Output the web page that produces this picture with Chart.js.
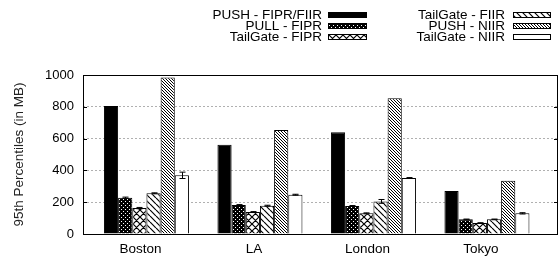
<!DOCTYPE html>
<html>
<head>
<meta charset="utf-8">
<script src="https://cdn.jsdelivr.net/npm/chart.js@4/dist/chart.umd.min.js"></script>
<style>
  body { margin: 0; background: #fff; }
  canvas { display: block; }
</style>
</head>
<body>
<canvas id="chart" width="559" height="257"></canvas>
<script>
'use strict';

// categories and series (95th percentiles in MB)
let cities = ['Boston', 'LA', 'London', 'Tokyo'];
let pushFipr = [805, 562, 640, 270];
let pullFipr = [228, 182, 176, 92];
let tailFipr = [163, 138, 130, 69];
let tailFiir = [256, 178, 205, 92];
let pushNiir = [985, 654, 853, 335];
let tailNiir = [369, 247, 352, 130];

// error bar half widths
let pushFiprErr = [0, 0, 0, 0];
let pullFiprErr = [4, 3, 3, 2];
let tailFiprErr = [4, 3, 3, 2];
let tailFiirErr = [3, 3, 12, 2];
let pushNiirErr = [0, 0, 0, 0];
let tailNiirErr = [20, 3, 3, 4];

let yTicks = [0, 200, 400, 600, 800, 1000];

let canvasElem = document.getElementById('chart');
Chart.defaults.font.family = '"Liberation Sans", Arial, sans-serif';
Chart.defaults.color = '#000';

function makePattern(size, draw) {
  let c = document.createElement('canvas');
  c.width = size;
  c.height = size;
  let g = c.getContext('2d');
  draw(g, size);
  return canvasElem.getContext('2d').createPattern(c, 'repeat');
}

// back-slash hatching
function hatch(size, lw, cross) {
  return makePattern(size, function(g, s) {
    g.fillStyle = '#fff';
    g.fillRect(0, 0, s, s);
    g.strokeStyle = '#000';
    g.lineWidth = lw;
    g.beginPath();
    for (let k = -s; k <= s; k += s) {
      g.moveTo(k, 0);
      g.lineTo(k + s, s);
      if (cross) {
        g.moveTo(k, s);
        g.lineTo(k + s, 0);
      }
    }
    g.stroke();
  });
}

let dotPattern = makePattern(4, function(g, s) {
  g.fillStyle = '#000';
  g.fillRect(0, 0, s, s);
  g.fillStyle = '#fff';
  g.fillRect(1, 1, 1, 1);
  g.fillRect(3, 3, 1, 1);
});

function points(values) {
  let out = [];
  for (let i = 0; i < values.length; i++) {
    out.push({x: i, y: values[i]});
  }
  return out;
}

let series = [
  {label: 'PUSH - FIPR/FIIR', data: pushFipr, err: pushFiprErr, fill: '#000'},
  {label: 'PULL - FIPR', data: pullFipr, err: pullFiprErr, fill: dotPattern},
  {label: 'TailGate - FIPR', data: tailFipr, err: tailFiprErr, fill: hatch(7, 1.2, true)},
  {label: 'TailGate - FIIR', data: tailFiir, err: tailFiirErr, fill: hatch(6, 1.2, false)},
  {label: 'PUSH - NIIR', data: pushNiir, err: pushNiirErr, fill: hatch(3, 1, false)},
  {label: 'TailGate - NIIR', data: tailNiir, err: tailNiirErr, fill: '#fff'}
];

let datasets = [];
for (let i = 0; i < series.length; i++) {
  datasets.push({
    label: series[i].label,
    data: points(series[i].data),
    errors: series[i].err,
    backgroundColor: series[i].fill,
    borderColor: '#000',
    borderWidth: 1,
    barPercentage: 1,
    categoryPercentage: 0.749
  });
}

// frame, inward ticks, error bars
let decorations = {
  id: 'decorations',
  afterDatasetsDraw(chart) {
    let ctx = chart.ctx;
    let area = chart.chartArea;
    let y = chart.scales.y;
    ctx.save();
    ctx.strokeStyle = '#000';
    ctx.lineWidth = 1;

    for (let i = 0; i < chart.data.datasets.length; i++) {
      let ds = chart.data.datasets[i];
      let meta = chart.getDatasetMeta(i);
      for (let j = 0; j < ds.data.length; j++) {
        let e = ds.errors[j];
        if (!e) continue;
        let el = meta.data[j];
        let x = Math.round(el.x) + 0.5;
        let hi = y.getPixelForValue(ds.data[j].y + e);
        let lo = y.getPixelForValue(ds.data[j].y - e);
        ctx.beginPath();
        ctx.moveTo(x, hi);
        ctx.lineTo(x, lo);
        ctx.moveTo(x - 3, hi);
        ctx.lineTo(x + 3, hi);
        ctx.moveTo(x - 3, lo);
        ctx.lineTo(x + 3, lo);
        ctx.stroke();
      }
    }

    ctx.beginPath();
    for (let t of yTicks) {
      let py = Math.round(y.getPixelForValue(t)) + 0.5;
      ctx.moveTo(area.left, py);
      ctx.lineTo(area.left + 4, py);
      ctx.moveTo(area.right - 4, py);
      ctx.lineTo(area.right, py);
    }
    ctx.stroke();
    ctx.strokeRect(Math.round(area.left) + 0.5, Math.round(area.top) + 0.5,
      Math.round(area.right - area.left) - 1, Math.round(area.bottom - area.top));
    ctx.restore();
  }
};

// two column legend, text right aligned before the swatch
let sideLegend = {
  id: 'sideLegend',
  afterDraw(chart) {
    let ctx = chart.ctx;
    let cols = [{textRight: 322, box: 328, w: 39}, {textRight: 505, box: 513, w: 38}];
    let rows = [14.5, 25.5, 36.5];
    ctx.save();
    ctx.font = '13.5px "Liberation Sans", Arial, sans-serif';
    ctx.textAlign = 'right';
    ctx.textBaseline = 'middle';
    ctx.fillStyle = '#000';
    for (let i = 0; i < chart.data.datasets.length; i++) {
      let ds = chart.data.datasets[i];
      let col = cols[Math.floor(i / 3)];
      let ry = rows[i % 3];
      ctx.fillStyle = '#000';
      ctx.fillText(ds.label, col.textRight, ry + 0.5);
      ctx.fillStyle = ds.backgroundColor;
      ctx.fillRect(col.box, Math.round(ry) - 3, col.w, 6);
      ctx.strokeStyle = '#000';
      ctx.lineWidth = 1;
      ctx.strokeRect(col.box + 0.5, Math.round(ry) - 2.5, col.w - 1, 5);
    }
    ctx.restore();
  }
};

new Chart(canvasElem, {
  type: 'bar',
  data: {datasets: datasets},
  options: {
    responsive: false,
    animation: false,
    layout: {padding: {top: 75, right: 1, left: 0, bottom: 0}},
    plugins: {
      legend: {display: false},
      tooltip: {enabled: false}
    },
    scales: {
      x: {
        type: 'linear',
        min: -0.559,
        max: 3.626,
        offset: false,
        afterBuildTicks(scale) {
          scale.ticks = cities.map(function(c, i) { return {value: i}; });
        },
        afterFit(scale) { scale.height = 23; },
        grid: {display: false, drawTicks: false, offset: false},
        border: {display: false},
        ticks: {
          font: {size: 13.5},
          padding: 7,
          labelOffset: -6,
          maxRotation: 0,
          callback: function(v) { return cities[v]; }
        }
      },
      y: {
        min: 0,
        max: 1000,
        afterBuildTicks(scale) {
          scale.ticks = yTicks.map(function(v) { return {value: v}; });
        },
        afterFit(scale) { scale.width = 83; },
        border: {display: false, dash: [2, 2]},
        grid: {
          drawTicks: false,
          color: function(c) {
            return (c.tick && c.tick.value > 0 && c.tick.value < 1000) ? '#b0b0b0' : 'rgba(0,0,0,0)';
          },
          lineWidth: 1
        },
        ticks: {
          font: {size: 13},
          padding: 9,
          callback: function(v) { return String(v); }
        },
        title: {
          display: true,
          text: '95th Percentiles (in MB)',
          font: {size: 13.5},
          color: '#222',
          padding: {top: 11, bottom: 0}
        }
      }
    }
  },
  plugins: [decorations, sideLegend]
});
</script>
</body>
</html>
